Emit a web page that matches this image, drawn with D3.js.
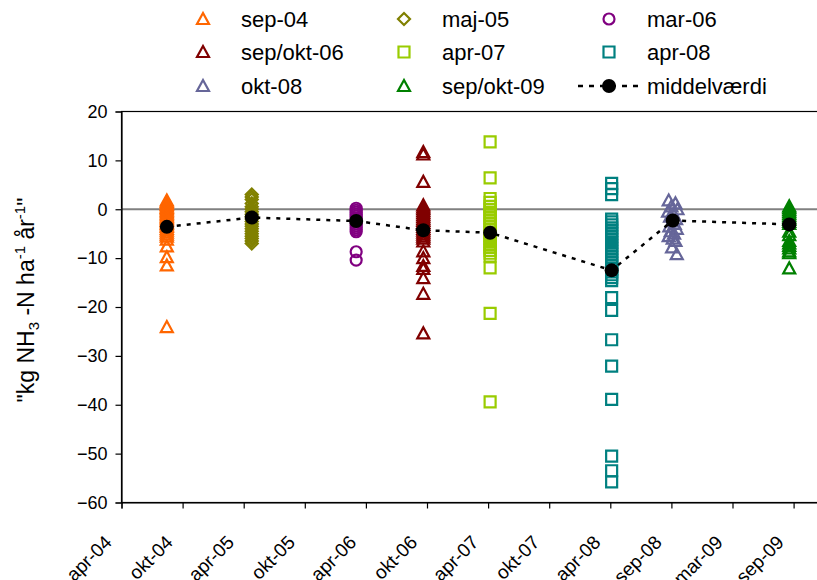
<!DOCTYPE html>
<html>
<head>
<meta charset="utf-8">
<script src="https://cdn.jsdelivr.net/npm/d3@7/dist/d3.min.js"></script>
<style>
  html, body { margin: 0; padding: 0; background: #fff; }
  svg { display: block; font-family: "Liberation Sans", Arial, sans-serif; }
</style>
</head>
<body>
<svg id="chart" width="817" height="580"></svg>
<script>
// Ammonia flux campaigns: one column of measurements per campaign
const seriesNames = ["sep-04", "maj-05", "mar-06", "sep/okt-06", "apr-07", "apr-08", "okt-08", "sep/okt-09"];
const seriesDates = ["2004-08-19", "2005-04-29", "2006-03-06", "2006-09-22", "2007-04-09", "2008-04-05", "2008-10-04", "2009-09-16"];
const seriesColors = ["#FF6600", "#808000", "#800080", "#800000", "#99CC00", "#008080", "#666699", "#008000"];
const seriesShapes = ["triangle", "diamond", "circle", "triangle", "square", "square", "triangle", "triangle"];

const sep04 = [1.8, 1.5, 1.2, 0.9, 0.6, 0.3, 0, -0.3, -0.6, -0.9, -1.2, -1.5, -1.8, -2.1, -2.4, -2.7, -3.0, -3.3, -3.6, -4.0, -4.4, -4.8, -5.2, -5.6, -6.2, -7.6, -9.8, -11.5, -24.1];
const maj05 = [3.0, 2.5, 2.0, 1.2, 0.5, 0, -0.5, -1.0, -1.5, -2.0, -2.5, -3.0, -3.5, -4.0, -4.5, -5.0, -5.5, -6.0, -6.5, -7.0];
const mar06 = [0.2, -0.2, -0.6, -1.0, -1.4, -1.8, -2.2, -2.6, -3.0, -3.4, -3.8, -4.2, -4.6, -8.7, -10.4];
const sepokt06 = [11.7, 11.2, 5.6, 0.8, 0.4, 0, -0.4, -0.8, -1.2, -1.6, -2.0, -2.4, -2.8, -3.2, -3.6, -4.0, -4.4, -4.8, -5.2, -5.6, -6.0, -6.6, -8.6, -10.0, -11.6, -12.2, -14.1, -17.3, -25.4];
const apr07 = [13.8, 6.4, 2.2, 1.4, 0.6, 0, -0.6, -1.2, -1.8, -2.4, -3.0, -3.6, -4.2, -4.8, -5.4, -6.0, -6.6, -7.2, -7.8, -8.4, -9.0, -9.6, -12.0, -21.3, -39.4];
const apr08 = [5.3, 4.2, 3.0, -2.0, -2.6, -3.2, -3.8, -4.4, -5.0, -5.6, -6.2, -6.8, -7.4, -8.0, -8.6, -9.2, -9.8, -10.4, -11.0, -11.6, -12.2, -12.8, -13.4, -14.0, -14.6, -18.1, -20.7, -26.7, -32.1, -38.9, -50.5, -53.5, -55.8];
const okt08 = [1.8, 1.2, 0.6, 0, -0.5, -1.0, -1.5, -2.0, -2.5, -3.0, -3.5, -4.0, -4.5, -5.0, -5.5, -6.0, -6.5, -7.8, -9.2];
const sepokt09 = [0.6, 0.2, -0.2, -0.6, -1.0, -1.4, -1.8, -2.2, -2.6, -3.0, -4.6, -5.3, -6.5, -7.0, -7.5, -8.0, -8.6, -9.0, -12.1];
const seriesValues = [sep04, maj05, mar06, sepokt06, apr07, apr08, okt08, sepokt09];

// okt-08 was sampled over several days around the campaign date
const okt08DayShift = [-12, 8, -4, 14, -14, 2, -8, 10, -2, 6, -10, 12, -6, 4, -12, 0, 8, -2, 12];

// Campaign means (middelværdi)
const meanValues = [-3.6, -1.7, -2.4, -4.3, -4.8, -12.5, -2.3, -3.1];

// Date axis: a tick every 182 days from the axis origin
const axisStart = "2004-04-06";
const tickStepDays = 182;
const tickLabels = ["apr-04", "okt-04", "apr-05", "okt-05", "apr-06", "okt-06", "apr-07", "okt-07", "apr-08", "sep-08", "mar-09", "sep-09"];
const yTicks = [20, 10, 0, -10, -20, -30, -40, -50, -60];

const svg = d3.select("#chart");
const parse = d3.utcParse("%Y-%m-%d");
const start = parse(axisStart);

const plot = { left: 121.5, top: 111.5, bottom: 502.5 };
const x = d3.scaleUtc()
  .domain([start, d3.utcDay.offset(start, tickStepDays * 12)])
  .range([plot.left, plot.left + 61.1 * 12]);
const y = d3.scaleLinear().domain([-60, 20]).range([plot.bottom, plot.top]);
const plotRight = x.range()[1];

// plot frame
svg.append("rect")
  .attr("x", plot.left).attr("y", plot.top)
  .attr("width", plotRight - plot.left).attr("height", plot.bottom - plot.top)
  .attr("fill", "none").attr("stroke", "#000").attr("stroke-width", 1.2);

// zero line
svg.append("line")
  .attr("x1", plot.left).attr("x2", plotRight)
  .attr("y1", y(0)).attr("y2", y(0))
  .attr("stroke", "#808080").attr("stroke-width", 2);

// y axis
const yAxis = d3.axisLeft(y).tickValues(yTicks).tickSize(6).tickPadding(8);
const gy = svg.append("g").attr("transform", `translate(${plot.left},0)`).call(yAxis);
gy.select(".domain").attr("stroke", "#000").attr("stroke-width", 1.2);
gy.selectAll(".tick line").attr("stroke", "#000").attr("stroke-width", 1.2);
gy.selectAll(".tick text").attr("font-size", 18).attr("fill", "#000")
  .attr("font-family", "Liberation Sans, Arial, sans-serif");

// x axis
const tickDates = tickLabels.map((_, i) => d3.utcDay.offset(start, i * tickStepDays));
const xAxis = d3.axisBottom(x).tickValues(tickDates).tickSize(6).tickFormat((d, i) => tickLabels[i]);
const gx = svg.append("g").attr("transform", `translate(0,${plot.bottom})`).call(xAxis);
gx.select(".domain").attr("stroke", "#000").attr("stroke-width", 1.2);
gx.selectAll(".tick line").attr("stroke", "#000").attr("stroke-width", 1.2);
gx.selectAll(".tick text")
  .attr("font-size", 19).attr("fill", "#000")
  .attr("font-family", "Liberation Sans, Arial, sans-serif")
  .attr("text-anchor", "end")
  .attr("y", 0).attr("dy", 0)
  .attr("transform", "translate(-9,41) rotate(-45)");

// y axis title
const title = svg.append("text")
  .attr("transform", `translate(34,300) rotate(-90)`)
  .attr("text-anchor", "middle")
  .attr("font-size", 23)
  .attr("fill", "#000");
title.append("tspan").text("\"kg NH");
title.append("tspan").attr("font-size", 15).attr("dy", 5).text("3");
title.append("tspan").attr("dy", -5).text(" -N ha");
title.append("tspan").attr("font-size", 15).attr("dy", -9).text("-1");
title.append("tspan").attr("dy", 9).text("  år");
title.append("tspan").attr("font-size", 15).attr("dy", -9).text("-1");
title.append("tspan").attr("dy", 9).text("\"");

// marker shapes
function markerPath(shape) {
  switch (shape) {
    case "triangle": return "M0,-6L6,5L-6,5Z";
    case "diamond": return "M0,-6L6,0L0,6L-6,0Z";
    case "square": return "M-5.5,-5.5H5.5V5.5H-5.5Z";
    case "circle": return "M5.5,0A5.5,5.5 0 1,1 -5.5,0A5.5,5.5 0 1,1 5.5,0Z";
  }
}

seriesNames.forEach((name, i) => {
  const base = parse(seriesDates[i]);
  const points = seriesValues[i].map((v, j) => ({
    date: name === "okt-08" ? d3.utcDay.offset(base, okt08DayShift[j]) : base,
    value: v
  }));
  svg.append("g")
    .selectAll("path")
    .data(points)
    .join("path")
    .attr("d", markerPath(seriesShapes[i]))
    .attr("transform", d => `translate(${x(d.date)},${y(d.value)})`)
    .attr("fill", "none")
    .attr("stroke", seriesColors[i])
    .attr("stroke-width", 2.2);
});

// mean line and dots
const meanData = meanValues.map((v, i) => ({ date: parse(seriesDates[i]), value: v }));
svg.append("path")
  .datum(meanData)
  .attr("d", d3.line().x(d => x(d.date)).y(d => y(d.value)))
  .attr("fill", "none")
  .attr("stroke", "#000")
  .attr("stroke-width", 2.5)
  .attr("stroke-dasharray", "4,6");
svg.append("g").selectAll("circle")
  .data(meanData)
  .join("circle")
  .attr("cx", d => x(d.date))
  .attr("cy", d => y(d.value))
  .attr("r", 7)
  .attr("fill", "#000");

// legend: three columns, three rows
const legendCols = [203, 404, 609];
const legendRows = [19, 52, 86];
const legendItems = seriesNames.map((name, i) => ({ name, color: seriesColors[i], shape: seriesShapes[i] }));
legendItems.push({ name: "middelværdi", mean: true });
const lg = svg.append("g");
legendItems.forEach((item, k) => {
  const c = k % 3, r = Math.floor(k / 3);
  const mx = legendCols[c], my = legendRows[r];
  if (item.mean) {
    lg.append("line")
      .attr("x1", mx - 31).attr("x2", mx + 35)
      .attr("y1", my).attr("y2", my)
      .attr("stroke", "#000").attr("stroke-width", 2.5)
      .attr("stroke-dasharray", "5,6");
    lg.append("circle").attr("cx", mx).attr("cy", my).attr("r", 7).attr("fill", "#000");
  } else {
    lg.append("path")
      .attr("d", markerPath(item.shape))
      .attr("transform", `translate(${mx},${my})`)
      .attr("fill", "none").attr("stroke", item.color).attr("stroke-width", 2.2);
  }
  lg.append("text")
    .attr("x", mx + 38).attr("y", my)
    .attr("dy", "0.35em")
    .attr("font-size", 22)
    .attr("fill", "#000")
    .text(item.name);
});
</script>
</body>
</html>
